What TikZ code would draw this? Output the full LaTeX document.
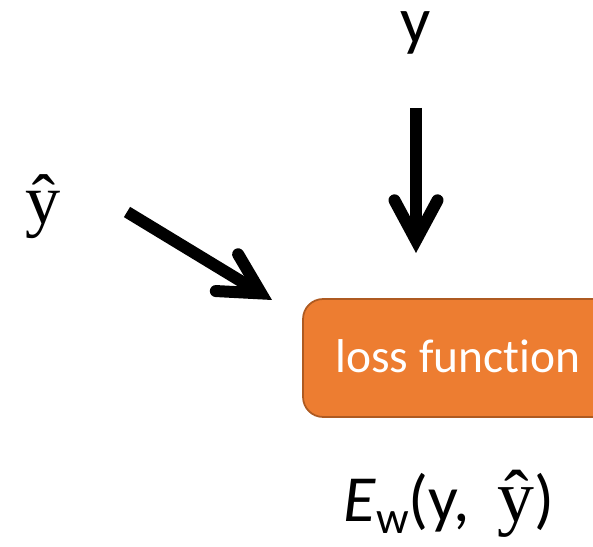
\documentclass[tikz,border=0pt]{standalone}
\usepackage{fontspec}
\setmainfont[Ligatures={NoCommon, NoRequired, NoContextual}]{Carlito}
\newfontfamily\timesfont{Liberation Serif}
\usetikzlibrary{arrows.meta}
\definecolor{lossorange}{RGB}{237, 125, 49}
\definecolor{lossedge}{RGB}{174, 90, 33}

\begin{document}
\begin{tikzpicture}[x=0.02cm, y=-0.02cm,
        feed/.style={line width=0.24cm, -{Straight Barb[length=0.8cm, width=0.86cm, line cap=round, line join=miter]}},
        lossbox/.style={draw=lossedge, line width=1pt, fill=lossorange, rounded corners=0.4cm, minimum width=6.2cm, minimum height=2.36cm},
        label/.style={inner sep=0pt, anchor=base, text height=1.6ex, font=\fontsize{38}{46}\selectfont}
      ]
        \useasboundingbox (0,0) rectangle (593,547);
        \node[lossbox] (loss) at (458,358) {};
        \node[inner sep=0pt, anchor=base, text=white, font=\fontsize{27}{32}\selectfont] (losstext) at (458,373) {loss function};
        \node[label] (target) at (416,44) {y};
        \node[label, text height=2.4ex, font=\fontsize{40}{46}\selectfont\timesfont] (pred) at (43,224) {ŷ};
        \node[inner sep=0pt, anchor=base west, font=\fontsize{37.5}{44}\selectfont] (error) at (343,522)
          {\textit{E}\raisebox{-0.17em}{\fontsize{26}{30}\selectfont w}(y,\hspace{0.42em}{\fontsize{42}{48}\selectfont\timesfont ŷ})};
        % arrows into the loss
        \coordinate (targettail) at (416,108);
        \coordinate (targethead) at (416,253);
        \coordinate (predtail) at (127,212);
        \coordinate (predhead) at (272,300);
        \draw[feed] (targettail) -- (targethead);
        \draw[feed] (predtail) -- (predhead);
      \end{tikzpicture}
\end{document}
